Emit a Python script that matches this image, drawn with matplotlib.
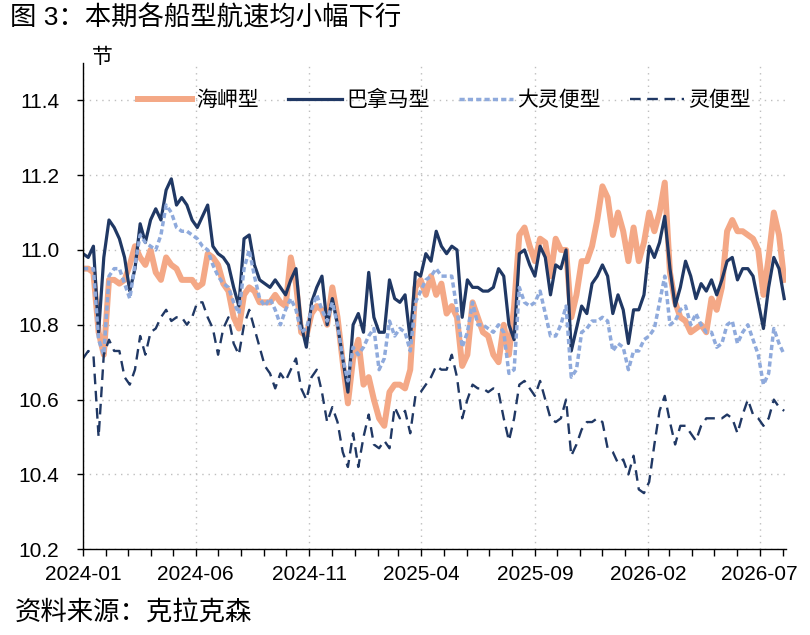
import pandas as pd
import matplotlib
matplotlib.use("Agg")
from matplotlib import pyplot as plt
import matplotlib.dates as mdates

plt.rcParams['font.family'] = ['Liberation Sans', 'Noto Sans CJK SC']
plt.rcParams['axes.unicode_minus'] = False

# weekly readings, first week 2024-01-01
capesize = [10.95, 10.95, 10.94, 10.78, 10.72, 10.92, 10.92, 10.91, 10.92, 10.96,
            11.01, 10.98, 10.96, 11.00, 10.94, 10.92, 10.98, 10.96, 10.95, 10.92,
            10.92, 10.92, 10.90, 10.91, 10.99, 10.98, 10.96, 10.91, 10.89, 10.82,
            10.79, 10.88, 10.90, 10.89, 10.86, 10.86, 10.86, 10.88, 10.86, 10.85,
            10.98, 10.91, 10.78, 10.77, 10.83, 10.85, 10.84, 10.80, 10.90, 10.82,
            10.70, 10.59, 10.71, 10.76, 10.64, 10.66, 10.60, 10.55, 10.53, 10.62,
            10.64, 10.64, 10.63, 10.68, 10.90, 10.92, 10.88, 10.93, 10.88, 10.91,
            10.83, 10.85, 10.82, 10.69, 10.72, 10.86, 10.82, 10.78, 10.77, 10.72,
            10.70, 10.80, 10.72, 10.85, 11.04, 11.06, 11.01, 10.97, 11.03, 11.02,
            10.93, 11.03, 11.00, 11.00, 10.82, 10.88, 10.97, 10.97, 11.01, 11.08,
            11.17, 11.14, 11.04, 11.10, 11.05, 10.97, 11.06, 10.97, 11.02, 11.10,
            11.05, 11.10, 11.18, 10.94, 10.86, 10.82, 10.81, 10.78, 10.79, 10.80,
            10.78, 10.87, 10.84, 10.90, 11.05, 11.08, 11.05, 11.05, 11.04, 11.03,
            11.00, 10.88, 10.98, 11.10, 11.04, 10.92]

panamax = [10.99, 10.98, 11.01, 10.78, 10.98, 11.08, 11.06, 11.03, 10.98, 10.89,
           10.95, 11.07, 11.02, 11.08, 11.11, 11.08, 11.16, 11.19, 11.12, 11.14,
           11.12, 11.08, 11.06, 11.09, 11.12, 11.01, 10.99, 10.98, 10.96, 10.90,
           10.85, 11.03, 11.04, 10.96, 10.92, 10.91, 10.90, 10.92, 10.90, 10.88,
           10.92, 10.95, 10.80, 10.74, 10.86, 10.90, 10.93, 10.80, 10.87, 10.80,
           10.71, 10.62, 10.80, 10.83, 10.78, 10.94, 10.82, 10.78, 10.78, 10.92,
           10.87, 10.86, 10.88, 10.76, 10.94, 10.93, 10.99, 10.97, 11.05, 11.01,
           10.99, 11.01, 11.00, 10.82, 10.92, 10.90, 10.90, 10.89, 10.89, 10.90,
           10.95, 10.93, 10.80, 10.76, 10.99, 11.00, 10.96, 10.93, 11.01, 10.98,
           10.88, 10.96, 10.95, 11.00, 10.73, 10.79, 10.85, 10.83, 10.91, 10.93,
           10.96, 10.93, 10.83, 10.88, 10.84, 10.75, 10.84, 10.84, 10.88, 11.01,
           10.98, 11.02, 11.09, 10.95, 10.85, 10.90, 10.97, 10.93, 10.87, 10.91,
           10.89, 10.92, 10.88, 10.92, 10.97, 10.98, 10.92, 10.95, 10.95, 10.93,
           10.86, 10.79, 10.90, 10.98, 10.95, 10.87]

supramax = [10.95, 10.95, 10.95, 10.76, 10.72, 10.93, 10.95, 10.95, 10.91, 10.87,
            10.96, 11.04, 11.02, 11.01, 11.00, 11.04, 11.12, 11.10, 11.06, 11.05,
            11.05, 11.04, 11.03, 11.01, 11.00, 10.96, 10.93, 10.91, 10.90, 10.86,
            10.83, 10.95, 11.00, 10.93, 10.87, 10.85, 10.87, 10.84, 10.80, 10.84,
            10.87, 10.84, 10.78, 10.79, 10.84, 10.88, 10.84, 10.81, 10.86, 10.80,
            10.71, 10.65, 10.74, 10.72, 10.74, 10.77, 10.79, 10.68, 10.71, 10.81,
            10.77, 10.79, 10.78, 10.73, 10.86, 10.89, 10.92, 10.93, 10.95, 10.93,
            10.93, 10.93, 10.84, 10.74, 10.78, 10.86, 10.80, 10.80, 10.79, 10.78,
            10.80, 10.78, 10.67, 10.68, 10.90, 10.86, 10.85, 10.86, 10.89, 10.83,
            10.77, 10.77, 10.80, 10.85, 10.66, 10.68, 10.78, 10.79, 10.81, 10.81,
            10.82, 10.81, 10.73, 10.75, 10.74, 10.68, 10.73, 10.73, 10.76, 10.77,
            10.79, 10.86, 10.93, 10.80, 10.81, 10.84, 10.85, 10.80, 10.83, 10.80,
            10.78, 10.78, 10.74, 10.75, 10.80, 10.81, 10.75, 10.78, 10.80, 10.76,
            10.72, 10.64, 10.67, 10.79, 10.75, 10.72]

handysize = [10.71, 10.73, 10.72, 10.50, 10.72, 10.76, 10.73, 10.73, 10.66, 10.64,
             10.68, 10.77, 10.72, 10.78, 10.79, 10.82, 10.84, 10.81, 10.82, 10.82,
             10.80, 10.82, 10.86, 10.86, 10.82, 10.79, 10.72, 10.79, 10.82, 10.75,
             10.72, 10.80, 10.84, 10.79, 10.74, 10.69, 10.67, 10.63, 10.67, 10.65,
             10.68, 10.71, 10.63, 10.60, 10.66, 10.68, 10.62, 10.54, 10.58, 10.54,
             10.46, 10.42, 10.51, 10.42, 10.50, 10.56, 10.48, 10.47, 10.49, 10.47,
             10.58, 10.55, 10.57, 10.51, 10.61, 10.62, 10.64, 10.66, 10.69, 10.68,
             10.68, 10.72, 10.66, 10.55, 10.60, 10.64, 10.63, 10.63, 10.62, 10.63,
             10.62, 10.55, 10.49, 10.55, 10.64, 10.65, 10.63, 10.61, 10.65, 10.60,
             10.55, 10.54, 10.55, 10.60, 10.45, 10.48, 10.52, 10.54, 10.54, 10.55,
             10.54, 10.47, 10.46, 10.43, 10.44, 10.40, 10.45, 10.36, 10.35, 10.38,
             10.48, 10.57, 10.61, 10.54, 10.48, 10.53, 10.53, 10.51, 10.49, 10.53,
             10.55, 10.55, 10.55, 10.55, 10.56, 10.55, 10.51, 10.56, 10.60, 10.56,
             10.55, 10.53, 10.55, 10.60, 10.58, 10.57]

dates = pd.date_range("2024-01-01", periods=len(panamax), freq="7D")
tick_labels = ["2024-01", "2024-06", "2024-11", "2025-04", "2025-09", "2026-02", "2026-07"]
y_ticks = [10.2, 10.4, 10.6, 10.8, 11.0, 11.2, 11.4]

navy = "#203864"

fig = plt.figure(figsize=(8.1, 6.35), dpi=100)
ax = fig.add_axes([0.1025, 0.135, 0.8675, 0.766])

ax.plot(dates, capesize, color="#F4A886", lw=4.3, label="海岬型")
ax.plot(dates, panamax, color=navy, lw=2.3, label="巴拿马型")
ax.plot(dates, supramax, color="#8FAADC", lw=2.5, ls=(0, (1.5, 0.9)), label="大灵便型")
ax.plot(dates, handysize, color=navy, lw=1.7, ls=(0, (4.5, 2.8)), label="灵便型")

ax.set_ylim(10.2, 11.5)
ax.set_yticks(y_ticks)
ax.set_yticklabels([f"{v:.1f}" for v in y_ticks])
ax.set_xlim(pd.Timestamp("2024-01-01"), pd.Timestamp("2026-08-05"))
ax.set_xticks(pd.to_datetime(tick_labels))
ax.set_xticklabels(tick_labels)
ax.xaxis.set_minor_locator(mdates.MonthLocator())

ax.grid(True, which="major", color="#BFBFBF", lw=1.0, ls=(0, (1, 3.5)))
ax.set_axisbelow(True)

for s in ["top", "right"]:
    ax.spines[s].set_visible(False)
for s in ["left", "bottom"]:
    ax.spines[s].set_color("black")
    ax.spines[s].set_linewidth(1.0)

ax.tick_params(axis="y", length=4, width=1, pad=13, labelsize=15, colors="black")
ax.tick_params(axis="x", which="both", length=5, width=1, pad=6, labelsize=15, colors="black")

ax.text(0.013, 1.012, "节", transform=ax.transAxes, fontsize=15, va="center", ha="left")

ax.legend(loc="center left", bbox_to_anchor=(0.078, 0.924), ncol=4, frameon=False,
          fontsize=15, handlelength=2.6, handletextpad=0.2, columnspacing=1.4,
          borderpad=0, borderaxespad=0)

fig.text(0.012, 0.992, "图 3：本期各船型航速均小幅下行", fontsize=19, va="top", ha="left")
fig.text(0.018, 0.036, "资料来源：克拉克森", fontsize=19, va="center", ha="left")

fig.savefig("out.png", dpi=100)
